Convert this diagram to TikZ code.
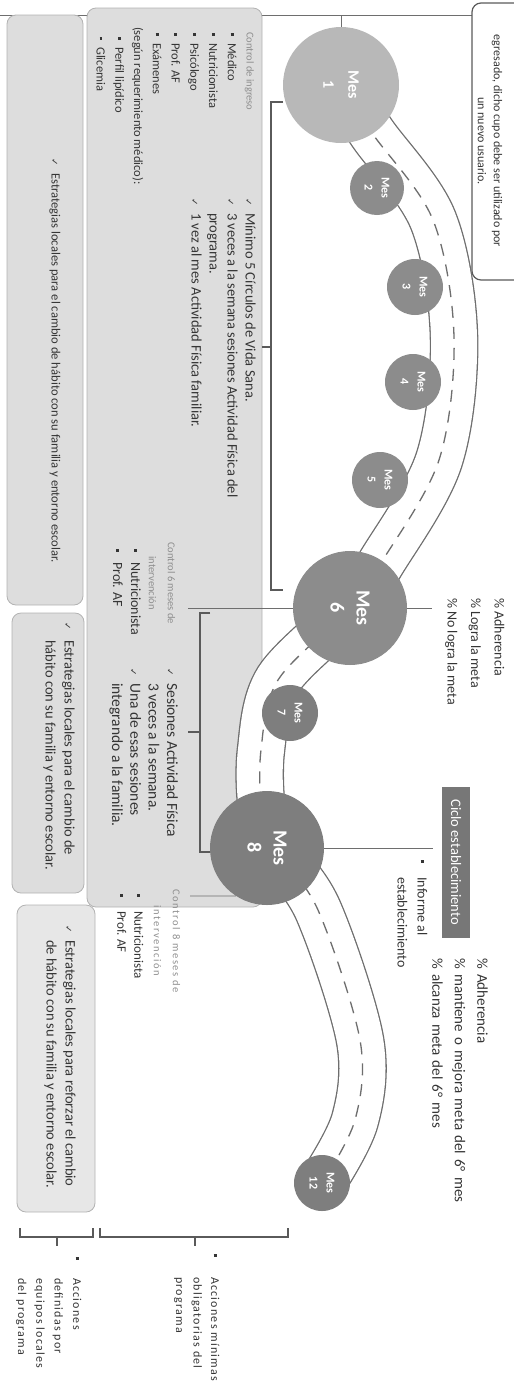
\documentclass[tikz,border=0pt]{standalone}
\usepackage{fontspec}
\setmainfont{Carlito}
\newfontfamily\ckfont{DejaVu Sans}
\usetikzlibrary{calc}

\definecolor{ink}{HTML}{353535}
\definecolor{capgray}{HTML}{8E8E8E}
\definecolor{panelfill}{HTML}{DDDDDD}
\definecolor{paneledge}{HTML}{B2B2B2}
\definecolor{roadgray}{HTML}{6E6E6E}
\definecolor{brkgray}{HTML}{5A5A5A}
\definecolor{mesgray}{HTML}{8C8C8C}
\definecolor{meslight}{HTML}{B8B8B8}
\definecolor{mesdark}{HTML}{7E7E7E}
\definecolor{ciclogray}{HTML}{777777}

% check mark and bullets, optional width of the hanging box
\newcommand\ckm[1][15pt]{\makebox[#1][l]{\ckfont\fontsize{9}{9}\selectfont\char"2713}}
\newcommand\sqbul[1][13pt]{\makebox[#1][l]{\raisebox{0.22em}{\rule{3.2pt}{3.2pt}}}}
\newcommand\dotbul[1][10pt]{\makebox[#1][l]{\raisebox{0.25em}{\rule{2.4pt}{2.4pt}}}}
% wider word gaps
\newcommand\widegap{\spaceskip=5.2pt\relax}

\begin{document}
\begin{tikzpicture}[x=1pt, y=1pt,
    every node/.style={font=\fontsize{12}{18.5}\selectfont, text=ink},
    % plain text blocks
    txt/.style={inner sep=0pt, align=left},
    % light grey captions
    caption/.style={inner sep=0pt, align=center, text=capgray,
        font=\fontsize{10.5}{19}\selectfont},
    % rounded grey panels
    panel/.style={draw=paneledge, fill=panelfill, rounded corners=9pt,
        line width=0.8pt, inner sep=0pt},
    % month circles
    mes/.style={circle, fill=mesgray, text=white, inner sep=0pt, align=center,
        minimum size=56pt, font=\fontsize{12}{17}\selectfont\bfseries},
    mesbig/.style={mes, minimum size=114pt, font=\fontsize{20}{26}\selectfont\bfseries},
    % road
    road/.style={draw=roadgray, line width=1.3pt, double=white, double distance=46pt},
    lane/.style={draw=roadgray, line width=1.3pt, dash pattern=on 12pt off 9pt},
    conn/.style={draw=roadgray, line width=0.8pt},
    brk/.style={draw=brkgray, line width=1.6pt},
]
\useasboundingbox (0,0) rectangle (514,-1385);
\clip (0,0) rectangle (514,-1385);

% the sheet is drawn lying down, then turned
\begin{scope}[rotate=-90, transform shape]

% ============================================================
% PANELS
% ============================================================
\coordinate (fr0) at (15,0);
\coordinate (fr1) at (15,472);
\draw[conn, line width=1pt] (fr0) -- (fr1);

\node[panel, minimum width=899pt, minimum height=175pt] (boxm) at (457.5,174.5) {};
\node[panel, minimum width=590pt, minimum height=76pt] (boxa) at (310,45) {};
\node[panel, minimum width=280pt, minimum height=72pt] (boxb) at (753,48) {};
\node[panel, fill=panelfill!70, minimum width=307pt, minimum height=78pt] (boxc) at (1058.5,56) {};

% note box (cut by the sheet edge)
\node[panel, fill=white, draw=brkgray, line width=1.2pt,
    minimum width=277pt, minimum height=84pt] (notebox) at (141.5,514) {};
\node[txt, align=center, font=\fontsize{12}{16}\selectfont] (notetxt) at (141,490)
    {egresado, dicho cupo debe ser utilizado por\\un nuevo usuario.};

% ============================================================
% ROAD
% ============================================================
\draw[road] plot[smooth, tension=0.55] coordinates {(85,341) (133,372) (220,433)
    (337,454) (460,439) (563,381) (608,350) (680,278) (750,261) (810,262)
    (848,275) (910,318) (1040,360) (1120,355) (1183,322)};
\draw[lane] plot[smooth, tension=0.55] coordinates {(85,341) (133,372) (220,433)
    (337,454) (460,439) (563,381) (608,350) (680,278) (750,261) (810,262)
    (848,275) (910,318) (1040,360) (1120,355) (1183,322)};

% ============================================================
% MONTHS
% ============================================================
\node[mesbig, fill=meslight, minimum size=116pt,
    font=\fontsize{16}{25}\selectfont\bfseries] (m1) at (85,341) {Mes\\1};
\node[mes, minimum size=54pt] (m2) at (188,377) {Mes\\2};
\node[mes] (m3) at (287,415) {Mes\\3};
\node[mes] (m4) at (382,413) {Mes\\4};
\node[mes] (m5) at (480,380) {Mes\\5};
\node[mesbig] (m6) at (608,350) {Mes\\6};
\node[mes, fill=mesdark] (m7) at (713,290) {Mes\\7};
\node[mesbig, fill=mesdark] (m8) at (848,267) {Mes\\8};
\node[mes, fill=mesdark] (m12) at (1183,322) {Mes\\12};

% connectors
\coordinate (m1fr) at (15,341);
\coordinate (m6up) at (608,432);
\coordinate (m6dn) at (608,188);
\coordinate (m8up) at (848,433);
\coordinate (m8dn) at (896,190);
\draw[conn] (m1fr) -- (m1);
\draw[conn] (m6) -- (m6up);
\draw[conn] (m6) -- (m6dn);
\draw[conn] (m8) -- (m8up);
\draw[conn] (m8.-33) -- (m8dn);

% ============================================================
% TOP ROW: results
% ============================================================
\node[txt, anchor=north west, font=\fontsize{14}{23.5}\selectfont] (adh6) at (598,504.5)
    {\% Adherencia\\\% Logra la meta\\\% No logra la meta};
\node[fill=ciclogray, text=white, inner sep=0pt, minimum width=151pt,
    minimum height=28pt, font=\fontsize{14.5}{16}\selectfont] (ciclo) at (862,456)
    {Ciclo establecimiento};
\node[txt, anchor=north west, font=\fontsize{14}{20}\selectfont] (informe) at (860,427.5)
    {\sqbul[17pt]Informe al\\\hspace*{17pt}establecimiento};
\node[txt, anchor=north west, font=\fontsize{15}{22.5}\selectfont\widegap] (adh8) at (958,488)
    {\% Adherencia\\\% mantiene o mejora meta del 6° mes\\\% alcanza meta del 6° mes};

% ============================================================
% MIDDLE ROW: minimum actions
% ============================================================
\node[txt, anchor=north west, font=\fontsize{12.5}{18.75}\selectfont] (ingreso) at (27,254)
    {\hspace*{5pt}{\color{capgray}\fontsize{10.5}{18.75}\selectfont Control de ingreso}\\
     \hspace*{6pt}\sqbul[10pt]Médico\\
     \hspace*{6pt}\sqbul[10pt]Nutricionista\\
     \hspace*{6pt}\sqbul[10pt]Psicólogo\\
     \hspace*{6pt}\sqbul[10pt]Prof. AF\\
     \hspace*{6pt}\sqbul[10pt]Exámenes\\
     (según requerimiento médico):\\
     \hspace*{10pt}\dotbul Perfil lipídico\\
     \hspace*{10pt}\dotbul Glicemia};

\node[txt, anchor=north west, font=\fontsize{14.5}{18}\selectfont] (checks1) at (198,256)
    {\ckm Mínimo 5 Círculos de Vida Sana.\\
     \ckm 3 veces a la semana sesiones Actividad Física del\\
     \hspace*{15pt}programa.\\
     \ckm 1 vez al mes Actividad Física familiar.};

\node[caption] (ctrl6) at (583,162) {Control 6 meses de\\intervención};
\node[txt, anchor=north west, font=\fontsize{14}{18}\selectfont] (list6) at (549,141)
    {\sqbul[13pt]Nutricionista\\\sqbul[13pt]Prof. AF};

\node[txt, anchor=north west, font=\fontsize{15.5}{18.3}\selectfont] (checks6) at (668,178)
    {\ckm Sesiones Actividad Física\\
     \hspace*{15pt}3 veces a la semana.\\
     \ckm Una de esas sesiones\\
     \hspace*{15pt}integrando a la familia.};

\node[caption, font=\fontsize{10.5}{19}\selectfont\addfontfeature{LetterSpace=15}] (ctrl8)
    at (941,167) {Control 8 meses de\\intervención};
\node[txt, anchor=north west, font=\fontsize{13}{17}\selectfont] (list8) at (894,143.5)
    {\sqbul[17pt]Nutricionista\\\sqbul[17pt]Prof. AF};

% brackets under months
\draw[brk] (102,283) -- (102,271) -- (590,271) -- (590,283);
\draw[brk] (347,271) -- (347,262);
\draw[brk] (613,210) -- (613,200) -- (852,200) -- (852,210);
\draw[brk] (732,200) -- (732,188);

% ============================================================
% BOTTOM ROW: local strategies
% ============================================================
\node[txt, anchor=west, font=\fontsize{12.6}{18}\selectfont] (estra) at (158,55)
    {\ckm Estrategias locales para el cambio de hábito con su familia y entorno escolar.};
\node[txt, anchor=north west, font=\fontsize{14.5}{19}\selectfont] (estrb) at (622,75)
    {\ckm[18pt]Estrategias locales para el cambio de\\
     \hspace*{18pt}hábito con su familia y entorno escolar.};
\node[txt, anchor=north west, font=\fontsize{14.5}{19}\selectfont] (estrc) at (925,76)
    {\ckm Estrategias locales para reforzar el cambio\\
     \hspace*{15pt}de hábito con su familia y entorno escolar.};

% ============================================================
% ROW LABELS
% ============================================================
\draw[brk, line width=1.3pt] (1228,20) -- (1237,20) -- (1237,93) -- (1228,93);
\draw[brk, line width=1.3pt] (1237,57) -- (1246,57);
\draw[brk, line width=1.3pt] (1228,100) -- (1237,100) -- (1237,288) -- (1228,288);
\draw[brk, line width=1.3pt] (1237,195) -- (1246,195);

\node[txt, anchor=north west, font=\fontsize{12}{18.3}\selectfont\addfontfeature{LetterSpace=10}]
    (accloc) at (1257,81.5)
    {\sqbul[21pt]Acciones\\\hspace*{21pt}definidas por\\
     \hspace*{21pt}equipos locales\\\hspace*{21pt}del programa};
\node[txt, anchor=north west, font=\fontsize{12}{17.5}\selectfont\addfontfeature{LetterSpace=10}]
    (accmin) at (1254,219.5)
    {\sqbul[23pt]Acciones mínimas\\\hspace*{23pt}obligatorias del\\
     \hspace*{23pt}programa};

\end{scope}
\end{tikzpicture}
\end{document}
